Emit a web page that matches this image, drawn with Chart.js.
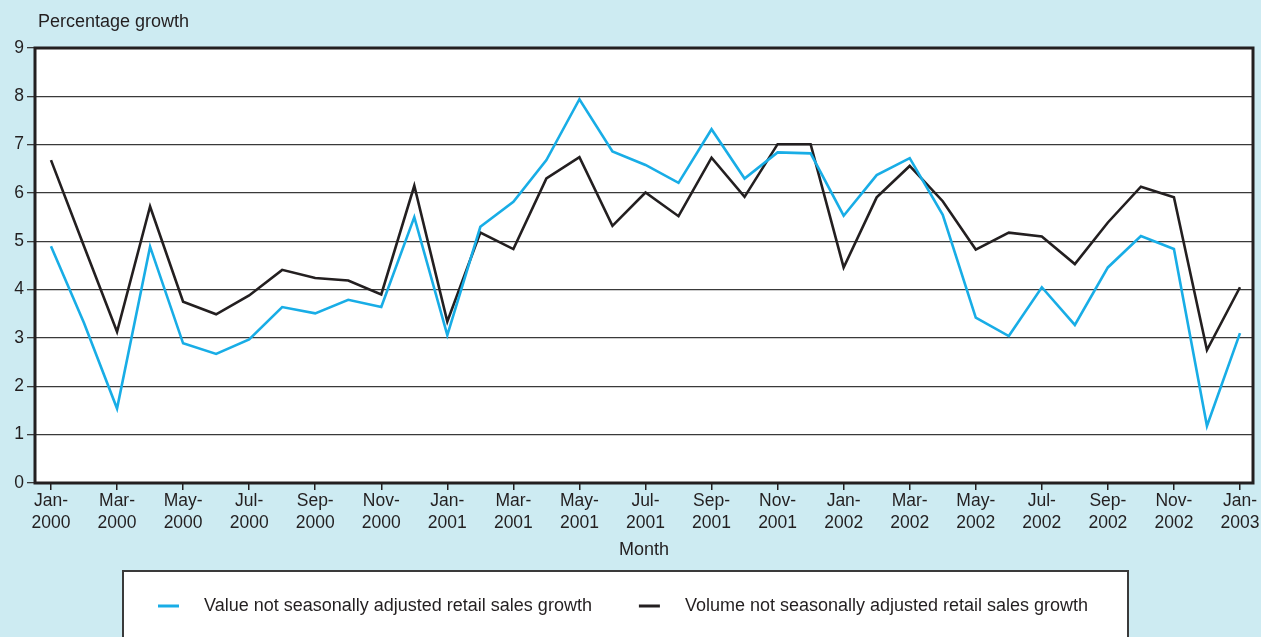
<!DOCTYPE html>
<html>
<head>
  <meta charset="utf-8">
  <title>Retail sales growth</title>
  <script src="https://cdn.jsdelivr.net/npm/chart.js"></script>
  <style>
    html, body { margin: 0; padding: 0; background: #cdebf2; }
    #wrap { width: 1261px; height: 637px; }
  </style>
</head>
<body>
  <div id="wrap"><canvas id="salesChart" width="1261" height="637"></canvas></div>
  <script>
    // Meses, de Jan-2000 a Jan-2003
    const months = [
      'Jan-2000', 'Feb-2000', 'Mar-2000', 'Apr-2000', 'May-2000', 'Jun-2000',
      'Jul-2000', 'Aug-2000', 'Sep-2000', 'Oct-2000', 'Nov-2000', 'Dec-2000',
      'Jan-2001', 'Feb-2001', 'Mar-2001', 'Apr-2001', 'May-2001', 'Jun-2001',
      'Jul-2001', 'Aug-2001', 'Sep-2001', 'Oct-2001', 'Nov-2001', 'Dec-2001',
      'Jan-2002', 'Feb-2002', 'Mar-2002', 'Apr-2002', 'May-2002', 'Jun-2002',
      'Jul-2002', 'Aug-2002', 'Sep-2002', 'Oct-2002', 'Nov-2002', 'Dec-2002',
      'Jan-2003'
    ];

    const valueGrowth = [
      4.90, 3.31, 1.54, 4.89, 2.89, 2.67, 2.97, 3.64, 3.51, 3.79, 3.64, 5.50,
      3.06, 5.30, 5.82, 6.68, 7.94, 6.86, 6.58, 6.21, 7.32, 6.30, 6.84, 6.82,
      5.53, 6.37, 6.72, 5.55, 3.42, 3.04, 4.05, 3.27, 4.46, 5.11, 4.84, 1.18,
      3.10
    ];

    const volumeGrowth = [
      6.68, 4.90, 3.13, 5.72, 3.75, 3.49, 3.88, 4.41, 4.24, 4.19, 3.90, 6.15,
      3.34, 5.18, 4.84, 6.30, 6.74, 5.32, 6.01, 5.52, 6.73, 5.92, 7.01, 7.01,
      4.46, 5.91, 6.56, 5.83, 4.83, 5.18, 5.10, 4.53, 5.39, 6.13, 5.91, 2.75,
      4.05
    ];

    const yTicks = [0, 1, 2, 3, 4, 5, 6, 7, 8, 9];

    const seriesLabels = [
      'Value not seasonally adjusted retail sales growth',
      'Volume not seasonally adjusted retail sales growth'
    ];

    const FONT = '"Liberation Sans", Arial, Helvetica, sans-serif';
    const INK = '#231f20';

    // Fondo, marco, título del eje y leyenda
    const decorPlugin = {
      id: 'decor',
      beforeDraw(chart) {
        const { ctx, chartArea: a } = chart;
        ctx.save();
        ctx.fillStyle = '#cdebf2';
        ctx.fillRect(0, 0, chart.width, chart.height);
        ctx.fillStyle = '#ffffff';
        ctx.fillRect(a.left, a.top, a.right - a.left, a.bottom - a.top);
        ctx.restore();
      },
      afterDraw(chart) {
        const { ctx, chartArea: a } = chart;
        ctx.save();
        // marco del gráfico
        ctx.strokeStyle = INK;
        ctx.lineWidth = 3;
        ctx.strokeRect(a.left, a.top, a.right - a.left, a.bottom - a.top);

        // título del eje Y
        ctx.fillStyle = INK;
        ctx.font = '18px ' + FONT;
        ctx.textBaseline = 'middle';
        ctx.textAlign = 'left';
        ctx.fillText('Percentage growth', 38, 22);

        // caja de leyenda
        const bx = 123, by = 571, bw = 1005;
        ctx.fillStyle = '#ffffff';
        ctx.fillRect(bx, by, bw, chart.height - by + 5);
        ctx.strokeStyle = '#3a3a3a';
        ctx.lineWidth = 2;
        ctx.strokeRect(bx, by, bw, chart.height - by + 5);

        let x = bx + 35;
        const y = 606;
        chart.data.datasets.forEach((ds) => {
          ctx.strokeStyle = ds.borderColor;
          ctx.lineWidth = 3;
          ctx.beginPath();
          ctx.moveTo(x, y);
          ctx.lineTo(x + 21, y);
          ctx.stroke();
          x += 46;
          ctx.fillStyle = INK;
          ctx.fillText(ds.label, x, y);
          x += ctx.measureText(ds.label).width + 47;
        });
        ctx.restore();
      }
    };

    const ctx = document.getElementById('salesChart').getContext('2d');
    const salesChart = new Chart(ctx, {
      type: 'line',
      data: {
        datasets: [
          {
            label: seriesLabels[0],
            data: valueGrowth.map((v, i) => ({ x: i, y: v })),
            borderColor: '#18ade6',
            backgroundColor: '#18ade6',
            borderWidth: 2.6,
            pointRadius: 0,
            tension: 0
          },
          {
            label: seriesLabels[1],
            data: volumeGrowth.map((v, i) => ({ x: i, y: v })),
            borderColor: INK,
            backgroundColor: INK,
            borderWidth: 2.6,
            pointRadius: 0,
            tension: 0
          }
        ]
      },
      options: {
        responsive: false,
        animation: false,
        layout: { padding: { left: 0, right: 8, top: 48, bottom: 77 } },
        plugins: {
          legend: { display: false },
          tooltip: { enabled: false }
        },
        scales: {
          x: {
            type: 'linear',
            min: -0.484,
            max: 36.394,
            afterBuildTicks: (scale) => {
              scale.ticks = months.map((m, i) => ({ value: i })).filter((t) => t.value % 2 === 0);
            },
            afterFit: (scale) => { scale.height = 77; },
            border: { display: false },
            grid: {
              drawOnChartArea: false,
              drawTicks: true,
              tickLength: 7,
              color: INK,
              lineWidth: 1.5
            },
            ticks: {
              autoSkip: false,
              maxRotation: 0,
              padding: 0,
              color: INK,
              font: { family: FONT, size: 17.5, lineHeight: 1.26 },
              callback: (value) => {
                const m = months[value];
                return [m.slice(0, 4), m.slice(4)];
              }
            },
            title: {
              display: true,
              text: 'Month',
              color: INK,
              padding: { top: 0, bottom: 0 },
              font: { family: FONT, size: 18, lineHeight: 1.1 }
            }
          },
          y: {
            min: yTicks[0],
            max: yTicks[yTicks.length - 1],
            afterBuildTicks: (scale) => {
              scale.ticks = yTicks.map((v) => ({ value: v }));
            },
            afterFit: (scale) => { scale.width = 35; },
            border: { display: false },
            grid: {
              color: '#3a3a3a',
              lineWidth: 1.3,
              drawTicks: true,
              tickLength: 8
            },
            ticks: {
              padding: 3,
              color: INK,
              font: { family: FONT, size: 17.5 }
            }
          }
        }
      },
      plugins: [decorPlugin]
    });
  </script>
</body>
</html>
